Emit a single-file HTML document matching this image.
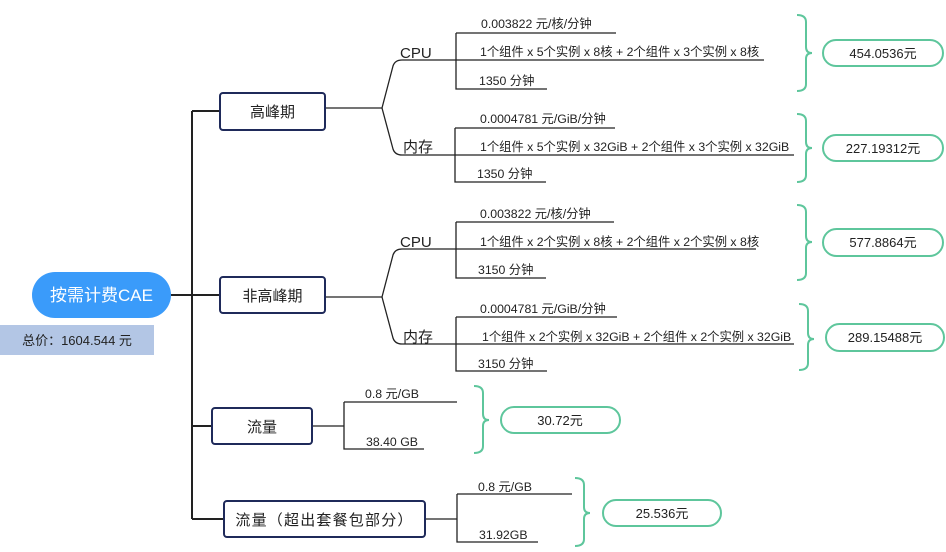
<!DOCTYPE html>
<html><head><meta charset="utf-8"><style>
html,body{margin:0;padding:0;background:#fff;}
svg{display:block;}
text{font-family:"Liberation Sans","Noto Sans CJK SC",sans-serif;fill:#222;}
</style></head><body>
<svg width="946" height="552" viewBox="0 0 946 552" xmlns="http://www.w3.org/2000/svg">
<g fill="none" stroke="#222" stroke-width="2">
<path d="M192 111 V519"/>
<path d="M171 295 H220"/>
<path d="M192 111 H220 M192 426 H212 M192 519 H224"/>
</g>
<g fill="none" stroke="#222" stroke-width="1.3">
<path d="M325 108 H382 L393 66 Q395 60 402 60 H764"/>
<path d="M382 108 L393 149 Q395 155 402 155 H794"/>
<path d="M456 33 H616 M456 33 V89 H547"/>
<path d="M455 128 H615 M455 128 V182 H546"/>
<path d="M325 297 H382 L393 255 Q395 249 402 249 H756"/>
<path d="M382 297 L393 338 Q395 344 402 344 H794"/>
<path d="M456 222 H614 M456 222 V278 H546"/>
<path d="M456 317 H617 M456 317 V371 H547"/>
<path d="M312 426 H344 M344 402 H457 M344 402 V449 H424"/>
<path d="M425 519 H457 M457 494 H572 M457 494 V542 H538"/>
</g>
<rect x="32" y="272" width="139" height="46" rx="23" fill="#3a9bfa"/>
<text x="101.5" y="301" font-size="17" text-anchor="middle" style="fill:#fff">按需计费CAE</text>
<rect x="0" y="325" width="154" height="30" fill="#b3c6e5"/>
<text x="77" y="345" font-size="13" text-anchor="middle">总价：1604.544 元</text>
<g fill="#fff" stroke="#1f2a5a" stroke-width="2">
<rect x="220" y="93" width="105" height="37" rx="3"/>
<rect x="220" y="277" width="105" height="36" rx="3"/>
<rect x="212" y="408" width="100" height="36" rx="3"/>
<rect x="224" y="501" width="201" height="36" rx="3"/>
</g>
<g font-size="15" text-anchor="middle">
<text x="272.5" y="117">高峰期</text>
<text x="272.5" y="301">非高峰期</text>
<text x="262" y="432">流量</text>
<text x="324.5" y="525" letter-spacing="1.2">流量（超出套餐包部分）</text>
</g>
<g font-size="15">
<text x="400" y="58">CPU</text>
<text x="403" y="152">内存</text>
<text x="400" y="247">CPU</text>
<text x="403" y="342">内存</text>
</g>
<g font-size="12.3">
<text x="481" y="28">0.003822 元/核/分钟</text>
<text x="480" y="56">1个组件 x 5个实例 x 8核 + 2个组件 x 3个实例 x 8核</text>
<text x="479" y="85">1350 分钟</text>
<text x="480" y="123">0.0004781 元/GiB/分钟</text>
<text x="480" y="151">1个组件 x 5个实例 x 32GiB + 2个组件 x 3个实例 x 32GiB</text>
<text x="477" y="178">1350 分钟</text>
<text x="480" y="218">0.003822 元/核/分钟</text>
<text x="480" y="246">1个组件 x 2个实例 x 8核 + 2个组件 x 2个实例 x 8核</text>
<text x="478" y="274">3150 分钟</text>
<text x="480" y="313">0.0004781 元/GiB/分钟</text>
<text x="482" y="341">1个组件 x 2个实例 x 32GiB + 2个组件 x 2个实例 x 32GiB</text>
<text x="478" y="368">3150 分钟</text>
<text x="365" y="398">0.8 元/GB</text>
<text x="366" y="446">38.40 GB</text>
<text x="478" y="491">0.8 元/GB</text>
<text x="479" y="539">31.92GB</text>
</g>
<g fill="none" stroke="#5ec69c" stroke-width="2">
<path d="M797 15 Q806 15 806 22 V47 Q806 53 812 53 Q806 53 806 59 V84 Q806 91 797 91"/>
<path d="M797 114 Q806 114 806 121 V142 Q806 148 812 148 Q806 148 806 154 V175 Q806 182 797 182"/>
<path d="M797 205 Q806 205 806 212 V236 Q806 242 812 242 Q806 242 806 248 V273 Q806 280 797 280"/>
<path d="M799 304 Q808 304 808 311 V333 Q808 339 814 339 Q808 339 808 345 V363 Q808 370 799 370"/>
<path d="M474 386 Q483 386 483 393 V414 Q483 420 489 420 Q483 420 483 426 V446 Q483 453 474 453"/>
<path d="M575 478 Q584 478 584 485 V507 Q584 513 590 513 Q584 513 584 519 V539 Q584 546 575 546"/>
<rect x="823" y="40" width="120" height="26" rx="13"/>
<rect x="823" y="135" width="120" height="26" rx="13"/>
<rect x="823" y="229" width="120" height="27" rx="13.5"/>
<rect x="826" y="324" width="118" height="27" rx="13.5"/>
<rect x="501" y="407" width="119" height="26" rx="13"/>
<rect x="603" y="500" width="118" height="26" rx="13"/>
</g>
<g font-size="13" text-anchor="middle">
<text x="883" y="58">454.0536元</text>
<text x="883" y="153">227.19312元</text>
<text x="883" y="247">577.8864元</text>
<text x="885" y="342">289.15488元</text>
<text x="560" y="425">30.72元</text>
<text x="662" y="518">25.536元</text>
</g>
</svg>
</body></html>
